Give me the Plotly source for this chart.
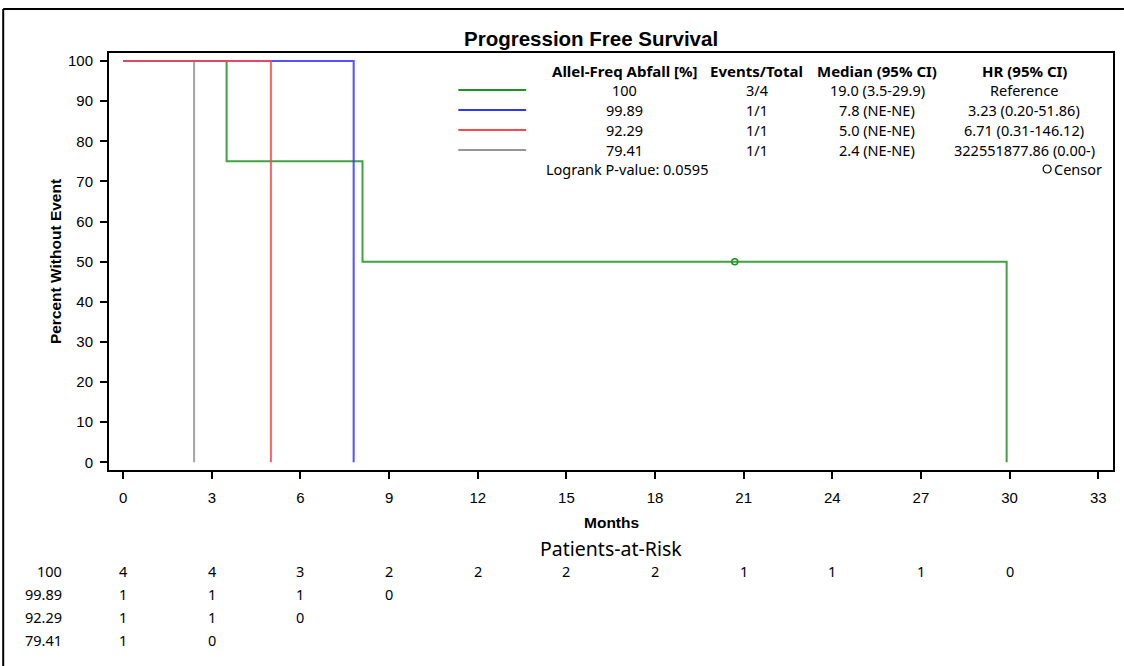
import plotly.graph_objects as go

# Kaplan-Meier step data per group (months, percent without event)
groups = ["100", "99.89", "92.29", "79.41"]
colors = ["#1f921f", "#3434ff", "#ff4848", "#969696"]
times = {
    "100": [0, 3.5, 8.1, 29.9],
    "99.89": [0, 7.8],
    "92.29": [0, 5.0],
    "79.41": [0, 2.4],
}
surv = {
    "100": [100, 75, 50, 0],
    "99.89": [100, 0],
    "92.29": [100, 0],
    "79.41": [100, 0],
}
censor_t = [20.7]
censor_s = [50]

# Summary table shown in the inset
events_total = ["3/4", "1/1", "1/1", "1/1"]
medians = ["19.0 (3.5-29.9)", "7.8 (NE-NE)", "5.0 (NE-NE)", "2.4 (NE-NE)"]
hazard = ["Reference", "3.23 (0.20-51.86)", "6.71 (0.31-146.12)", "322551877.86 (0.00-)"]
logrank = "Logrank P-value: 0.0595"

# Patients at risk
risk_times = [0, 3, 6, 9, 12, 15, 18, 21, 24, 27, 30]
at_risk = {
    "100": [4, 4, 3, 2, 2, 2, 2, 1, 1, 1, 0],
    "99.89": [1, 1, 1, 0],
    "92.29": [1, 1, 0],
    "79.41": [1, 0],
}

W, H = 1124, 666
L, R, T, B = 109, 1115, 53, 470  # plot area in pixels


def px(x):
    return (x - L) / (R - L)


def py(y):
    return (B - y) / (B - T)


AX_FONT = "Liberation Sans, Arial, sans-serif"
UI_FONT = "Noto Sans, Open Sans, sans-serif"

fig = go.Figure()

draw_order = ["100", "79.41", "99.89", "92.29"]
for g in draw_order:
    i = groups.index(g)
    fig.add_trace(go.Scatter(
        x=times[g], y=surv[g], mode="lines", line_shape="hv",
        line=dict(color=colors[i], width=2), opacity=0.85,
        showlegend=False, hoverinfo="skip"))

fig.add_trace(go.Scatter(
    x=censor_t, y=censor_s, mode="markers",
    marker=dict(symbol="circle-open", size=6, color=colors[0], line=dict(width=1.5)),
    showlegend=False, hoverinfo="skip"))

annotations = []
shapes = []

# Inset table: sample lines and columns
row_y = [90, 110, 130, 150]
col_x = {"grp": 626, "ev": 758, "med": 879, "hr": 1026}
hdr_y = 71
hdr_font = dict(family=UI_FONT, size=15, color="black")
cell_font = dict(family=UI_FONT, size=14.5, color="black")
for key, txt in [("grp", "<b>Allel-Freq Abfall [%]</b>"), ("ev", "<b>Events/Total</b>"),
                 ("med", "<b>Median (95% CI)</b>"), ("hr", "<b>HR (95% CI)</b>")]:
    annotations.append(dict(x=px(col_x[key]), y=py(hdr_y), xref="paper", yref="paper",
                            text=txt, showarrow=False, xanchor="center", yanchor="middle",
                            font=hdr_font))
for i, g in enumerate(groups):
    shapes.append(dict(type="line", xref="paper", yref="paper",
                       x0=px(459), x1=px(527), y0=py(row_y[i]), y1=py(row_y[i]),
                       line=dict(color=colors[i], width=2)))
    for key, txt in [("grp", g), ("ev", events_total[i]), ("med", medians[i]), ("hr", hazard[i])]:
        annotations.append(dict(x=px(col_x[key]), y=py(row_y[i]), xref="paper", yref="paper",
                                text=txt, showarrow=False, xanchor="center", yanchor="middle",
                                font=cell_font))
annotations.append(dict(x=px(545), y=py(169), xref="paper", yref="paper", text=logrank,
                        showarrow=False, xanchor="left", yanchor="middle", font=cell_font))
annotations.append(dict(x=px(1106), y=py(169), xref="paper", yref="paper", text="Censor",
                        showarrow=False, xanchor="right", yanchor="middle", font=cell_font))
fig.add_trace(go.Scatter(
    x=[px(1049)], y=[py(169)], xaxis="x2", yaxis="y2", mode="markers",
    marker=dict(symbol="circle-open", size=8, color="black", line=dict(width=1.2)),
    showlegend=False, hoverinfo="skip"))

# Titles
annotations.append(dict(x=px(592), y=py(38), xref="paper", yref="paper",
                        text="<b>Progression Free Survival</b>", showarrow=False,
                        xanchor="center", yanchor="middle",
                        font=dict(family=AX_FONT, size=20.5, color="black")))
annotations.append(dict(x=px(55), y=py(262), xref="paper", yref="paper",
                        text="<b>Percent Without Event</b>", showarrow=False, textangle=-90,
                        xanchor="center", yanchor="middle",
                        font=dict(family=AX_FONT, size=15.5, color="black")))
annotations.append(dict(x=px(612), y=py(522), xref="paper", yref="paper",
                        text="<b>Months</b>", showarrow=False, xanchor="center", yanchor="middle",
                        font=dict(family=AX_FONT, size=15.5, color="black")))
annotations.append(dict(x=px(612), y=py(548), xref="paper", yref="paper",
                        text="Patients-at-Risk", showarrow=False, xanchor="center", yanchor="middle",
                        font=dict(family=UI_FONT, size=19.5, color="black")))

# Risk table
risk_y = [571, 594, 617, 640]
for i, g in enumerate(groups):
    annotations.append(dict(x=px(64), y=py(risk_y[i]), xref="paper", yref="paper", text=g,
                            showarrow=False, xanchor="right", yanchor="middle", font=cell_font))
    for t, n in zip(risk_times, at_risk[g]):
        annotations.append(dict(x=t, y=py(risk_y[i]), xref="x", yref="paper", text=str(n),
                                showarrow=False, xanchor="center", yanchor="middle",
                                font=cell_font))

# Outer frame (top and left edges)
shapes.append(dict(type="line", xref="paper", yref="paper", x0=px(3), x1=px(1126),
                   y0=py(9), y1=py(9), line=dict(color="black", width=2)))
shapes.append(dict(type="line", xref="paper", yref="paper", x0=px(3), x1=px(3),
                   y0=py(9), y1=py(668), line=dict(color="black", width=2)))

fig.update_layout(
    width=W, height=H,
    margin=dict(l=L, r=W - R, t=T, b=H - B, pad=0),
    paper_bgcolor="white", plot_bgcolor="white",
    showlegend=False,
    annotations=annotations,
    shapes=shapes,
    xaxis=dict(range=[-0.48, 33.5], tickvals=list(range(0, 34, 3)),
               showgrid=False, zeroline=False, showline=True, linecolor="black",
               linewidth=2, mirror=True, ticks="outside", ticklen=7, tickwidth=1.5,
               tickcolor="black", ticklabelstandoff=6,
               tickfont=dict(family=AX_FONT, size=15, color="black")),
    yaxis=dict(range=[-1.9, 102], tickvals=list(range(0, 101, 10)),
               showgrid=False, zeroline=False, showline=True, linecolor="black",
               linewidth=2, mirror=True, ticks="outside", ticklen=7, tickwidth=1.5,
               tickcolor="black", ticklabelstandoff=4,
               tickfont=dict(family=AX_FONT, size=15, color="black")),
    xaxis2=dict(range=[0, 1], domain=[0, 1], overlaying="x", visible=False, anchor="y2"),
    yaxis2=dict(range=[0, 1], domain=[0, 1], overlaying="y", visible=False, anchor="x2"),
)

fig.write_html("out.html")
